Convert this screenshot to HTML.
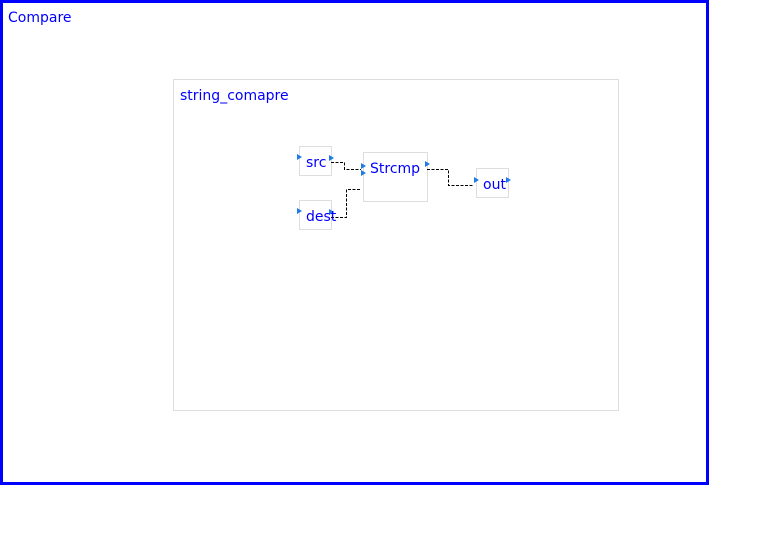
<!DOCTYPE html>
<html><head><style>
html,body{margin:0;padding:0;background:#fff;}
svg{display:block;}
text{font-family:"DejaVu Sans","Liberation Sans",sans-serif;fill:#0000ff;}
</style></head><body>
<svg width="760" height="535" viewBox="0 0 760 535">
<rect x="1.5" y="1.5" width="706" height="482" fill="#fff" stroke="#0000ff" stroke-width="3"/>
<text x="8" y="22" font-size="14">Compare</text>
<rect x="173.5" y="79.5" width="445" height="331" fill="#fff" stroke="#dddddd"/>
<text x="180" y="100" font-size="14">string_comapre</text>
<g fill="#fff" stroke="#dddddd">
<rect x="299.5" y="146.5" width="32" height="29"/>
<rect x="299.5" y="200.5" width="32" height="29"/>
<rect x="363.5" y="152.5" width="64" height="49"/>
<rect x="476.5" y="168.5" width="32" height="29"/>
</g>
<g fill="none" stroke="#000" stroke-width="1" stroke-dasharray="3,1.5">
<path d="M331 162.5H344.5V169.5H361"/>
<path d="M331 217.5H346.5V189.5H361"/>
<path d="M427 169.5H448.5V185.5H474"/>
</g>
<g fill="#1e7be6">
<path d="M297 154l5 3-5 3z"/>
<path d="M329 155l5 3-5 3z"/>
<path d="M297 208l5 3-5 3z"/>
<path d="M329 209l5 3-5 3z"/>
<path d="M361 163l5 3-5 3z"/>
<path d="M361 170l5 3-5 3z"/>
<path d="M425 161l5 3-5 3z"/>
<path d="M474 177l5 3-5 3z"/>
<path d="M506 177l5 3-5 3z"/>
</g>
<text x="306" y="167" font-size="14">src</text>
<text x="306" y="221" font-size="14">dest</text>
<text x="370" y="173" font-size="14">Strcmp</text>
<text x="483" y="189" font-size="14">out</text>
</svg>
</body></html>
